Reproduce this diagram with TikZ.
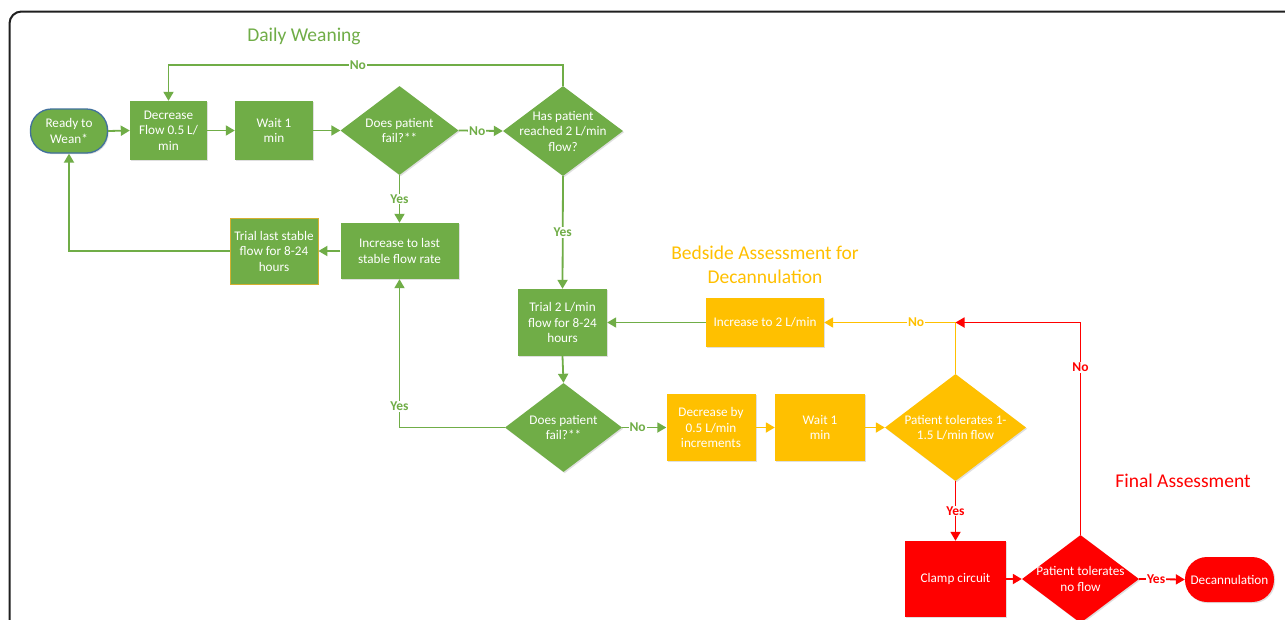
\documentclass[tikz,border=0pt]{standalone}
\usepackage{fontspec}
\setmainfont{Carlito}
\usetikzlibrary{shapes.geometric,arrows.meta,shadows}
\definecolor{gn}{HTML}{70AD47}
\definecolor{yl}{HTML}{FFC000}
\definecolor{rd}{HTML}{FF0000}
\definecolor{bl}{HTML}{41719C}
\definecolor{gd}{HTML}{D4B030}
\newcommand\myNodeFont{\fontsize{13.2}{15.5}\selectfont}
\newcommand\myLblFont{\fontsize{13.5}{14}\selectfont\bfseries}
\newcommand\myTitleFont{\fontsize{19.5}{24}\selectfont}
\tikzset{
  sz/.style 2 args={minimum width=#1pt, minimum height=#2pt},
  base/.style={inner sep=0pt, text=white, font=\myNodeFont, align=center,
    drop shadow={shadow xshift=1.2pt, shadow yshift=-1.2pt, opacity=.25}},
  box/.style={base, rectangle, fill=#1},
  pill/.style={base, rectangle, rounded corners=21pt, fill=#1},
  dia/.style={base, diamond, fill=#1},
  txt/.style={text=white, font=\myNodeFont, align=center, inner sep=0pt},
  conn/.style={draw=#1, line width=1.8pt, -{Triangle[length=9pt,width=10pt]}},
  lbl/.style={fill=white, inner sep=1pt, font=\myLblFont, text=#1},
  heading/.style={text=#1, font=\myTitleFont, inner sep=0pt, align=center}
}
\begin{document}
\begin{tikzpicture}[x=1pt,y=-1pt]
\clip (0,0) rectangle (1285,619);
\fill[white] (0,0) rectangle (1285,619);
\draw[line width=2pt, draw=black!88, rounded corners=12pt] (9.5,11.5) rectangle (1330,670);

% titles
\node[heading=gn] (t1) at (304,36) {Daily Weaning};
\node[heading=yl] (t2) at (765,265) {Bedside Assessment for\\Decannulation};
\node[heading=rd] (t3) at (1183,481) {Final Assessment};

% green section
\node[pill=gn, draw=bl, line width=1.3pt, sz={77}{44}] (ready) at (69,131) {Ready to\\Wean*};
\node[box=gn, sz={77}{59}] (dec) at (168.5,130.5) {Decrease\\Flow 0.5 L/\\min};
\node[box=gn, sz={78}{59}] (wait) at (274,130.5) {Wait 1\\min};
\node[dia=gn, sz={118}{89}, label={[txt]center:{Does patient\\fail?**}}] (fail1) at (399.5,130.5) {};
\node[dia=gn, sz={120}{90}, label={[txt]center:{Has patient\\reached 2 L/min\\flow?}}] (has) at (563,131) {};
\node[box=gn, sz={118}{56}] (inc) at (399.5,251) {Increase to last\\stable flow rate};
\node[box=gn, draw=gd, line width=0.8pt, sz={88}{66}] (trialLast) at (274,251) {Trial last stable\\flow for 8-24\\hours};
\node[box=gn, sz={89}{67}] (trial2) at (562.5,322.5) {Trial 2 L/min\\flow for 8-24\\hours};
\node[dia=gn, sz={117}{89}, label={[txt]center:{Does patient\\fail?**}}] (fail2) at (563.5,427.5) {};

% yellow section
\node[box=yl, sz={118}{49}] (inc2) at (765,322.5) {Increase to 2 L/min};
\node[box=yl, sz={89}{67}] (decBy) at (711,427.5) {Decrease by\\0.5 L/min\\increments};
\node[box=yl, sz={90}{67}] (wait2) at (820,427.5) {Wait 1\\min};
\node[dia=yl, sz={141}{107}, label={[txt]center:{Patient tolerates 1-\\1.5 L/min flow}}] (tol1) at (955.5,427.5) {};

% red section
\node[box=rd, sz={101}{76}] (clamp) at (955.5,579) {Clamp circuit};
\node[dia=rd, sz={117}{88}, label={[txt]center:{Patient tolerates\\no flow}}] (tol0) at (1080.5,579) {};
\node[pill=rd, sz={89}{45}, rounded corners=22pt] (decan) at (1229.5,579.5) {Decannulation};

% connectors green
\draw[conn=gn] (ready.east) -- (dec.west);
\draw[conn=gn] (dec.east) -- (wait.west);
\draw[conn=gn] (wait.east) -- (fail1.west);
\draw[conn=gn] (fail1.east) -- node[lbl=gn, pos=0.42]{No} (has.west);
\draw[conn=gn] (has.north) -- (has.north |- 0,65) -- node[lbl=gn, pos=0.52]{No} (dec.north |- 0,65) -- (dec.north);
\draw[conn=gn] (fail1.south) -- node[lbl=gn]{Yes} (inc.north);
\draw[conn=gn] (has.south) -- node[lbl=gn]{Yes} (trial2.north);
\draw[conn=gn] (inc.west) -- (trialLast.east);
\draw[conn=gn] (trialLast.west) -| (ready.south);
\draw[conn=gn] (trial2.south) -- (fail2.north);
\draw[conn=gn] (fail2.west) -| node[lbl=gn, pos=0.571]{Yes} (inc.south);
\draw[conn=gn] (fail2.east) -- node[lbl=gn, pos=0.35]{No} (decBy.west);
\draw[conn=gn] (inc2.west) -- (trial2.east);

% connectors yellow
\draw[conn=yl] (decBy.east) -- (wait2.west);
\draw[conn=yl] (wait2.east) -- (tol1.west);
\coordinate (join) at (tol1.north |- inc2.east);
\draw[conn=yl] (tol1.north) -- (join) -- node[lbl=yl, pos=0.3]{No} (inc2.east);

% connectors red
\draw[conn=rd] (tol1.south) -- node[lbl=rd]{Yes} (clamp.north);
\draw[conn=rd] (clamp.east) -- (tol0.west);
\draw[conn=rd] (tol0.north) -- node[lbl=rd, pos=0.79]{No} (tol0.north |- join) -- (join);
\draw[conn=rd] (tol0.east) -- node[lbl=rd, pos=0.37]{Yes} (decan.west);
\end{tikzpicture}
\end{document}
